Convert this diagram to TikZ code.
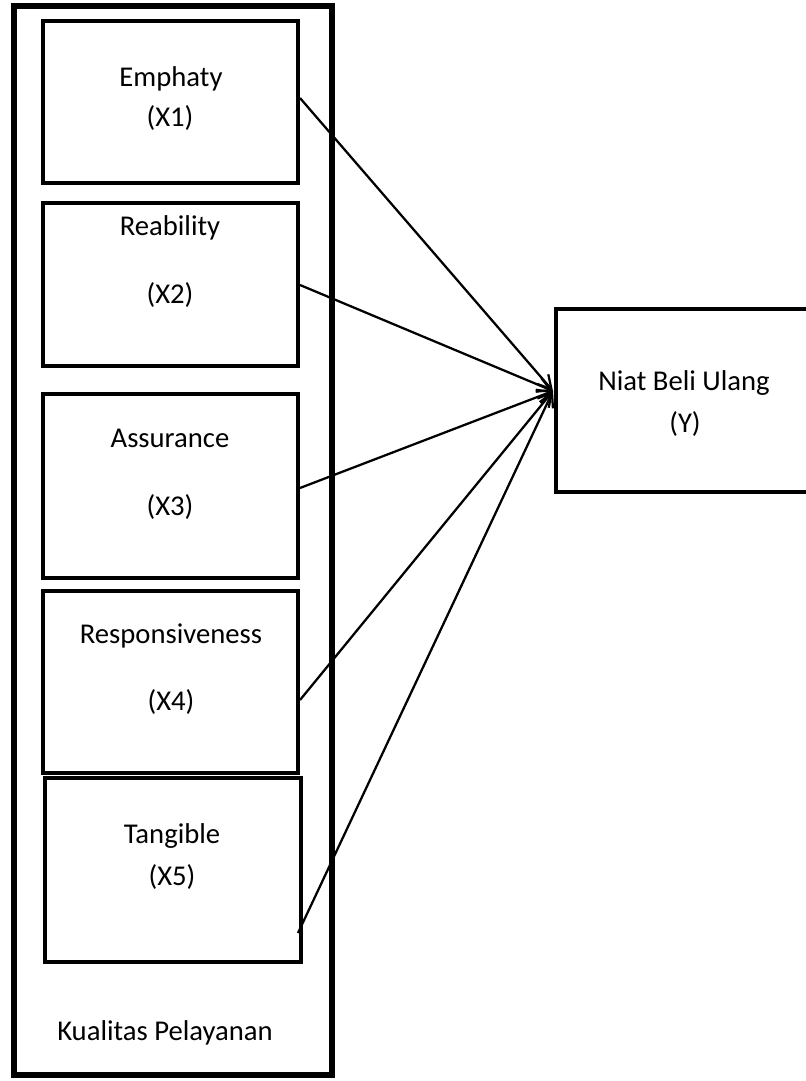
\documentclass[tikz,border=0pt]{standalone}
\usepackage{fontspec}
\setmainfont{Carlito}
\usetikzlibrary{fit,arrows.meta}
\tikzset{
  box/.style={draw, line width=3.5pt, inner sep=0pt, outer sep=0pt},
  outerbox/.style={draw, line width=3.8pt, inner sep=0pt, outer sep=0pt},
  lbl/.style={inner sep=0pt, anchor=base, font=\fontsize{21.5}{26}\selectfont},
  conn/.style={line width=1.7pt, -{Straight Barb[length=10pt,width=11pt,line width=1.7pt]}}
}
\begin{document}
\begin{tikzpicture}[x=0.75pt,y=-0.75pt]
\clip (0,0) rectangle (806,1081);
\fill[white] (0,0) rectangle (806,1081);
% outer group box
\node[outerbox, fit={(14,6) (332,1075)}] (group) {};
% inner boxes
\node[box, fit={(43,21) (298,183)}] (emp) {};
\node[box, fit={(43,203) (298,366)}] (rea) {};
\node[box, fit={(43,394) (298,578)}] (ass) {};
\node[box, fit={(43,591) (298,773)}] (res) {};
\node[box, fit={(45,778) (301,962)}] (tan) {};
\node[box, fit={(556,309) (840,492)}] (niat) {};
% labels
\node[lbl] (t1a) at (171,87) {Emphaty};
\node[lbl] (t1b) at (170,126) {(X1)};
\node[lbl] (t2a) at (170,235) {Reability};
\node[lbl] (t2b) at (170,303) {(X2)};
\node[lbl] (t3a) at (170,447) {Assurance};
\node[lbl] (t3b) at (170,515) {(X3)};
\node[lbl] (t4a) at (171,643) {Responsiveness};
\node[lbl] (t4b) at (171,710) {(X4)};
\node[lbl] (t5a) at (172,843) {Tangible};
\node[lbl] (t5b) at (172,885) {(X5)};
\node[lbl] (tg) at (165,1040) {Kualitas Pelayanan};
\node[lbl] (ty1) at (684,390) {Niat Beli Ulang};
\node[lbl] (ty2) at (685,432) {(Y)};
% connector end points
\coordinate (s1) at (300,98);
\coordinate (s2) at (300,285);
\coordinate (s3) at (300,488);
\coordinate (s4) at (300,700);
\coordinate (s5) at (298,933);
\coordinate (tip) at (553,391);
\draw[conn] (s1) -- (tip);
\draw[conn] (s2) -- (tip);
\draw[conn] (s3) -- (tip);
\draw[conn] (s4) -- (tip);
\draw[conn] (s5) -- (tip);
\end{tikzpicture}
\end{document}
